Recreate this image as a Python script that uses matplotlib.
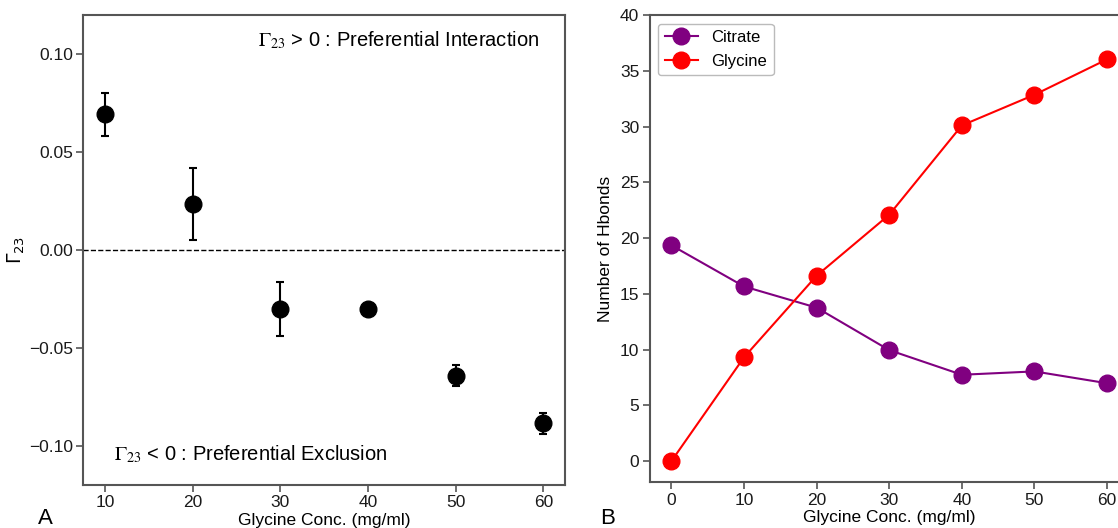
import matplotlib
matplotlib.use("Agg")
import matplotlib.pyplot as plt

plt.rcParams['font.family'] = ['Liberation Sans', 'DejaVu Sans']

# panel A: preferential interaction coefficient
conc_a = [10, 20, 30, 40, 50, 60]
gamma23 = [0.0694, 0.0236, -0.0301, -0.0301, -0.0642, -0.0886]
gamma23_err = [0.0111, 0.0184, 0.0136, 0.002, 0.0055, 0.0054]

# panel B: hydrogen bonds
conc_b = [0, 10, 20, 30, 40, 50, 60]
hb_citrate = [19.35, 15.66, 13.76, 9.95, 7.74, 8.04, 6.98]
hb_glycine = [0.0, 9.31, 16.63, 22.10, 30.11, 32.86, 36.04]

W, H = 1118, 528
fig = plt.figure(figsize=(W / 100, H / 100), dpi=100)

def px_axes(left, right, top, bottom):
    return fig.add_axes([left / W, (H - bottom) / H, (right - left) / W, (bottom - top) / H])

spine_col = '#555555'

def style(ax):
    for s in ax.spines.values():
        s.set_color(spine_col)
        s.set_linewidth(1.5)
    ax.tick_params(colors=spine_col, labelcolor='#1a1a1a', labelsize=12.5,
                   length=5, width=1.2, pad=2.5)

# ---- A ----
ax1 = px_axes(83.2, 565.2, 15.2, 484.9)
ax1.errorbar(conc_a, gamma23, yerr=gamma23_err, fmt='o', color='black',
             markersize=12, capsize=3, elinewidth=1.5, capthick=1.5)
ax1.axhline(0, color='black', linestyle='--', linewidth=1)
ax1.set_xlim(7.5, 62.5)
ax1.set_ylim(-0.12, 0.12)
ax1.set_xticks(conc_a)
ax1.set_yticks([-0.10, -0.05, 0.0, 0.05, 0.10])
style(ax1)
ax1.set_ylabel(r'$\Gamma_{23}$', fontsize=13.5, labelpad=1)
ax1.set_xlabel('Glycine Conc. (mg/ml)', fontsize=12.5, labelpad=2)
ax1.text(0.946, 0.947, r'$\Gamma_{23}$ > 0 : Preferential Interaction',
         transform=ax1.transAxes, ha='right', va='center', fontsize=14.5,
         math_fontfamily='stix')
ax1.text(0.064, 0.065, r'$\Gamma_{23}$ < 0 : Preferential Exclusion',
         transform=ax1.transAxes, ha='left', va='center', fontsize=14.5,
         math_fontfamily='stix')

# ---- B ----
ax2 = px_axes(649.7, 1128.8, 15.2, 482.2)
ax2.plot(conc_b, hb_citrate, '-o', color='purple', markersize=12, linewidth=1.5, label='Citrate')
ax2.plot(conc_b, hb_glycine, '-o', color='red', markersize=12, linewidth=1.5, label='Glycine')
ax2.set_xlim(-3, 63)
ax2.set_ylim(-1.9, 40)
ax2.set_xticks(conc_b)
ax2.set_yticks(range(0, 41, 5))
style(ax2)
ax2.set_ylabel('Number of Hbonds', fontsize=12.5, labelpad=5)
ax2.set_xlabel('Glycine Conc. (mg/ml)', fontsize=12.5, labelpad=2)
ax2.legend(loc='upper left', fontsize=12, edgecolor='#bbbbbb', framealpha=1)

fig.text(45 / W, (H - 519) / H, 'A', fontsize=16, ha='center', va='center')
fig.text(608 / W, (H - 519) / H, 'B', fontsize=16, ha='center', va='center')

fig.savefig('out.png', dpi=100)
